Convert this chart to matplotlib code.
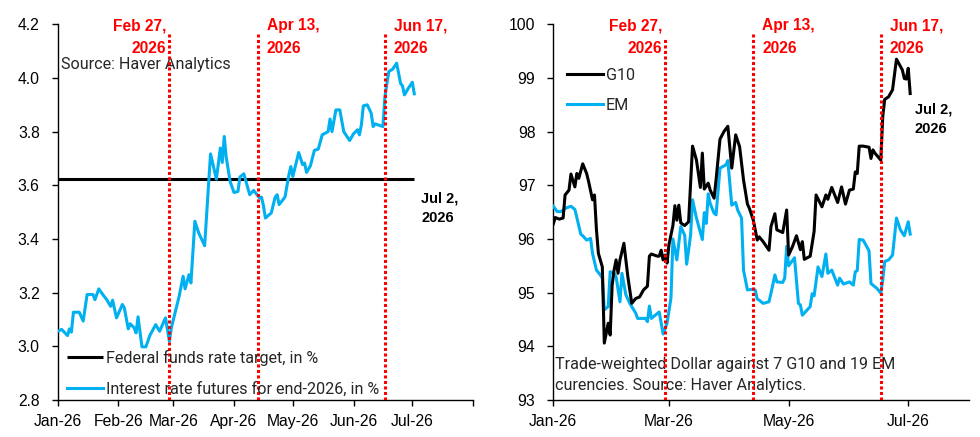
import numpy as np
import pandas as pd
import matplotlib
matplotlib.use("Agg")
import matplotlib.pyplot as plt
import matplotlib.dates as mdates

# ---- data (days counted from 2026-01-01) ----
rate_days = [0, 2, 5, 6, 7, 8, 11, 13, 15, 18, 19, 21, 23, 25, 27, 28, 30, 33, 34, 36,
             37, 39, 40, 41, 43, 45, 47, 50, 52, 55, 57, 58, 62, 64, 65, 67, 68, 70, 72, 75,
             78, 81, 83, 84, 85, 86, 88, 90, 92, 93, 95, 98, 100, 103, 104, 105, 106, 109, 111, 112,
             113, 116, 118, 119, 120, 123, 125, 126, 127, 129, 131, 133, 135, 138, 139, 140, 142, 144, 146, 149,
             151, 153, 154, 155, 156, 158, 160, 161, 162, 166, 167, 169, 171, 173, 175, 176, 177, 179, 181, 182]
futures = [3.056, 3.063, 3.040, 3.065, 3.053, 3.127, 3.127, 3.094, 3.193, 3.193, 3.174, 3.214, 3.193, 3.174, 3.149, 3.172, 3.106, 3.156, 3.143, 3.065,
           3.084, 3.069, 3.050, 3.110, 2.998, 2.998, 3.040, 3.081, 3.056, 3.106, 3.019, 3.069, 3.187, 3.261, 3.214, 3.267, 3.236, 3.466, 3.422, 3.375,
           3.717, 3.623, 3.739, 3.685, 3.782, 3.705, 3.614, 3.573, 3.577, 3.631, 3.643, 3.565, 3.581, 3.553, 3.556, 3.524, 3.478, 3.497, 3.556, 3.565,
           3.528, 3.556, 3.639, 3.670, 3.633, 3.722, 3.677, 3.683, 3.648, 3.673, 3.730, 3.735, 3.788, 3.800, 3.847, 3.800, 3.881, 3.881, 3.800, 3.767,
           3.792, 3.807, 3.788, 3.825, 3.896, 3.900, 3.869, 3.819, 3.829, 3.819, 3.930, 4.024, 4.033, 4.055, 3.980, 3.970, 3.937, 3.962, 3.984, 3.941]
fed_days = [0, 182]
fed_target = [3.625, 3.625]

g10_days = [0, 1, 3, 5, 6, 8, 9, 11, 12, 13, 15, 17, 18, 20, 21, 22, 23, 25, 26, 28,
            29, 30, 31, 32, 33, 34, 36, 38, 40, 42, 44, 46, 48, 49, 50, 53, 54, 55, 56, 57,
            58, 59, 61, 62, 63, 64, 65, 67, 69, 71, 73, 75, 76, 77, 79, 80, 82, 83, 85, 87,
            89, 91, 93, 95, 97, 99, 100, 102, 104, 105, 107, 110, 111, 113, 114, 117, 119, 120, 122, 124,
            126, 127, 128, 131, 133, 134, 137, 139, 140, 142, 145, 147, 149, 151, 153, 154, 155, 156, 158, 161,
            162, 163, 164, 167, 168, 169, 171, 173, 175, 178, 179, 180, 181, 182]
g10 = [96.28, 96.40, 96.37, 96.39, 96.82, 96.91, 97.21, 96.97, 97.22, 97.13, 97.40, 97.22, 97.07, 96.73, 96.82, 96.17, 95.73, 95.48, 94.06, 94.43,
       94.21, 95.14, 95.42, 95.61, 95.36, 95.61, 95.92, 95.30, 94.80, 94.89, 94.92, 95.05, 95.12, 95.68, 95.72, 95.68, 95.68, 95.79, 95.61, 95.70,
       95.55, 95.90, 96.25, 96.62, 96.35, 96.63, 96.30, 96.25, 96.32, 97.73, 97.47, 96.96, 97.60, 96.93, 97.04, 96.91, 96.76, 97.10, 97.86, 98.00,
       98.10, 97.32, 97.94, 97.72, 97.10, 96.65, 96.57, 96.35, 95.98, 96.04, 95.95, 95.79, 96.23, 96.47, 96.17, 96.12, 96.54, 95.70, 95.86, 96.06,
       95.80, 95.95, 95.62, 95.68, 96.14, 96.82, 96.60, 96.82, 96.74, 96.96, 96.68, 96.97, 96.65, 96.91, 96.93, 97.25, 97.22, 97.73, 97.73, 97.71,
       97.50, 97.66, 97.60, 97.47, 98.28, 98.60, 98.65, 98.78, 99.35, 99.15, 98.99, 98.98, 99.18, 98.71]

em_days = [0, 2, 4, 6, 9, 11, 12, 14, 15, 17, 19, 20, 22, 24, 25, 26, 28, 29, 31, 32,
           34, 35, 37, 39, 42, 43, 47, 48, 49, 50, 54, 56, 58, 60, 61, 63, 65, 67, 68, 70,
           71, 73, 76, 77, 78, 79, 80, 82, 83, 85, 88, 89, 91, 93, 94, 96, 97, 99, 101, 103,
           104, 105, 107, 110, 111, 113, 114, 117, 118, 119, 120, 123, 125, 126, 127, 131, 132, 133, 135, 137,
           139, 140, 142, 145, 146, 148, 151, 153, 154, 155, 156, 158, 161, 162, 165, 167, 168, 169, 171, 173,
           175, 177, 179, 181, 182]
em = [96.61, 96.51, 96.51, 96.57, 96.61, 96.55, 96.40, 96.09, 96.06, 95.98, 96.01, 95.73, 95.42, 95.33, 95.27, 94.68, 94.74, 95.39, 95.36, 95.30,
      94.83, 95.36, 94.96, 94.80, 94.62, 94.52, 94.52, 94.46, 94.75, 94.52, 94.64, 94.23, 94.43, 94.90, 96.00, 95.61, 96.23, 96.07, 95.53, 96.07,
      96.73, 96.39, 95.99, 96.49, 96.29, 96.84, 96.66, 96.48, 96.45, 97.32, 97.38, 97.46, 96.63, 96.68, 96.54, 96.39, 95.42, 95.05, 95.06, 95.05,
      94.88, 94.86, 94.80, 94.83, 94.99, 95.33, 95.20, 95.19, 95.27, 95.86, 95.50, 95.65, 94.80, 94.77, 94.58, 94.74, 94.98, 94.94, 95.48, 95.30,
      95.72, 95.36, 95.42, 95.14, 95.27, 95.16, 95.20, 95.14, 95.39, 95.41, 95.99, 95.98, 95.78, 95.17, 95.08, 94.99, 95.24, 95.58, 95.61, 95.70,
      96.39, 96.17, 96.06, 96.32, 96.09]

event_dates = ["2026-02-27", "2026-04-13", "2026-06-17"]
event_labels = ["Feb 27,\n2026", "Apr 13,\n2026", "Jun 17,\n2026"]
left_month_labels = ["Jan-26", "Feb-26", "Mar-26", "Apr-26", "May-26", "Jun-26", "Jul-26", ""]
right_month_labels = ["Jan-26", "Mar-26", "May-26", "Jul-26"]

start = pd.Timestamp("2026-01-01")
to_dates = lambda d: start + pd.to_timedelta(d, unit="D")

BLUE = "#00B0F0"
RED = "#FF0000"
TXT = "#262626"
TICKFONT = "Liberation Sans"
NOTEFONT = "Roboto"
NOTESIZE = 11.6

plt.rcParams["font.family"] = TICKFONT

fig = plt.figure(figsize=(9.8, 4.37), dpi=100)
ax1 = fig.add_axes([0.0589, 0.0847, 0.4238, 0.8597])
ax2 = fig.add_axes([0.5646, 0.0847, 0.4242, 0.8597])

xlim = (start, pd.Timestamp("2026-08-01"))

for ax in (ax1, ax2):
    ax.set_xlim(*xlim)
    for s in ("top", "right"):
        ax.spines[s].set_visible(False)
    for s in ("left", "bottom"):
        ax.spines[s].set_linewidth(1.0)
        ax.spines[s].set_color("#000000")
    ax.tick_params(axis="both", direction="out", length=4, width=1, labelsize=11.3,
                   colors="#000000")
    ax.tick_params(axis="y", pad=9)
    ax.tick_params(axis="x", pad=6)

# ---- left panel ----
ax1.plot(to_dates(fed_days), fed_target, color="black", lw=2.2,
         label="Federal funds rate target, in %", solid_capstyle="butt", zorder=3)
ax1.plot(to_dates(rate_days), futures, color=BLUE, lw=2.2,
         label="Interest rate futures for end-2026, in %", zorder=4)
ax1.set_ylim(2.8, 4.2)
ax1.set_yticks(np.arange(2.8, 4.21, 0.2))
ax1.yaxis.set_major_formatter(plt.FormatStrFormatter("%.1f"))
ax1.set_xticks(pd.date_range("2026-01-01", "2026-08-01", freq="MS"))
ax1.set_xticklabels(left_month_labels)

# ---- right panel ----
ax2.plot(to_dates(g10_days), g10, color="black", lw=2.2, label="G10", zorder=4)
ax2.plot(to_dates(em_days), em, color=BLUE, lw=2.2, label="EM", zorder=3)
ax2.set_ylim(93, 100)
ax2.set_yticks(np.arange(93, 101, 1))
ax2.set_xticks(pd.date_range("2026-01-01", "2026-07-01", freq="2MS"))
ax2.set_xticklabels(right_month_labels)

# ---- event lines and labels ----
tops = {ax1: [0.974, 0.974, 0.974], ax2: [0.964, 0.974, 0.974]}
for ax in (ax1, ax2):
    for i, (d, lab) in enumerate(zip(event_dates, event_labels)):
        dt = pd.Timestamp(d)
        ax.axvline(dt, ymin=0, ymax=tops[ax][i], color=RED, lw=2.2,
                   linestyle=(0, (1.0, 0.8)), zorder=5)
        if i == 0:
            off, ha = -3, "right"
        else:
            off, ha = 9, "left"
        ax.annotate(lab, xy=(dt, 1.0), xycoords=("data", "axes fraction"),
                    xytext=(off, 6), textcoords="offset pixels", ha=ha, va="top",
                    color=RED, fontsize=11.2, fontweight="bold", linespacing=1.62,
                    annotation_clip=False)

# ---- notes ----
ax1.text(0.008, 0.894, "Source: Haver Analytics", transform=ax1.transAxes,
         fontsize=NOTESIZE, color=TXT, family=NOTEFONT, va="center", ha="left")
ax1.text(0.875, 0.51, "Jul 2,\n2026", transform=ax1.transAxes, fontsize=10.5,
         fontweight="bold", color="black", va="center", ha="left", linespacing=1.5)
ax2.text(0.870, 0.748, "Jul 2,\n2026", transform=ax2.transAxes, fontsize=10.5,
         fontweight="bold", color="black", va="center", ha="left", linespacing=1.5)
ax2.text(0.004, 0.066, "Trade-weighted Dollar against 7 G10 and 19 EM\ncurencies. Source: Haver Analytics.",
         transform=ax2.transAxes, fontsize=NOTESIZE, color=TXT, family=NOTEFONT,
         va="center", ha="left", linespacing=1.5)

leg1 = ax1.legend(loc="lower left", bbox_to_anchor=(0.0, -0.016), frameon=False,
                  handlelength=2.2, handletextpad=0.2, labelspacing=0.95,
                  prop={"family": NOTEFONT, "size": NOTESIZE}, borderaxespad=0.2)
leg2 = ax2.legend(loc="upper left", bbox_to_anchor=(0.01, 0.91), frameon=False,
                  handlelength=2.2, handletextpad=0.2, labelspacing=0.95,
                  prop={"family": NOTEFONT, "size": NOTESIZE}, borderaxespad=0.2)
for leg in (leg1, leg2):
    for t in leg.get_texts():
        t.set_color(TXT)

fig.savefig("out.png", dpi=100)
